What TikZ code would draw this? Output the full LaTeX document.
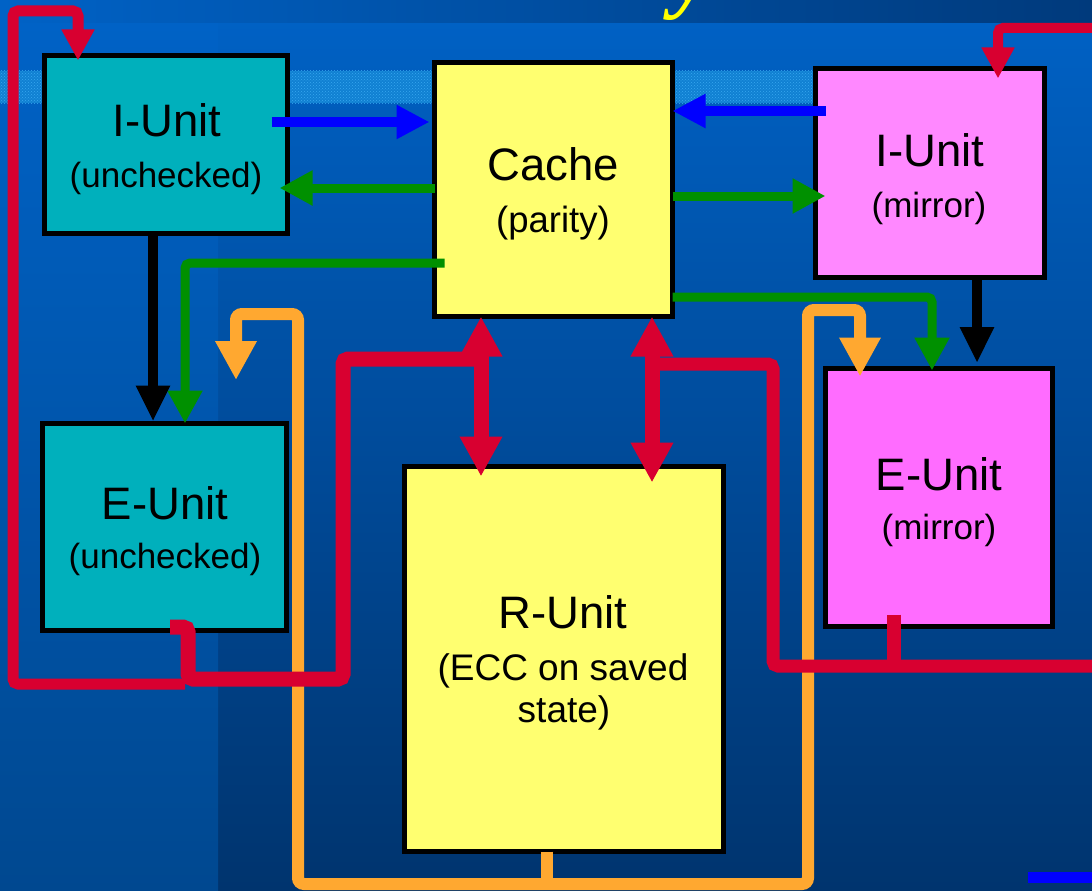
\documentclass[tikz,border=0pt]{standalone}
\usepackage{fontspec}
\setmainfont{Liberation Sans}
\newfontfamily\titlefont{Liberation Serif}
\usetikzlibrary{arrows.meta,patterns}
\definecolor{tealc}{HTML}{00B0BC}
\definecolor{yelc}{HTML}{FFFF70}
\definecolor{pinkA}{HTML}{FF88FF}
\definecolor{pinkB}{HTML}{FF6CFF}
\definecolor{redc}{HTML}{D80030}
\definecolor{orc}{HTML}{FFA830}
\definecolor{grc}{HTML}{009000}
\definecolor{blc}{HTML}{0000FF}
\definecolor{bgtop}{HTML}{0062C6}
\definecolor{bgbot}{HTML}{00346E}
\definecolor{bgleftbot}{HTML}{004890}
\definecolor{bandr}{HTML}{003A7C}
\definecolor{stripec}{HTML}{1080D2}
\definecolor{stripedot}{HTML}{38A8F0}
\definecolor{titley}{HTML}{FFFF00}
\begin{document}
\begin{tikzpicture}[x=1pt,y=-1pt,
  box/.style={draw=black,line width=5pt,inner sep=0pt,outer sep=0pt},
  big/.style={font=\fontsize{45.5}{50}\selectfont,inner sep=0pt},
  small/.style={font=\fontsize{35}{40}\selectfont,inner sep=0pt},
  bluearr/.style={draw=blc,line width=10pt,-{Triangle[length=33pt,width=32pt]}},
  greenarr/.style={draw=grc,line width=9pt,-{Triangle[length=33pt,width=33pt]}},
  blackarr/.style={draw=black,line width=10pt,-{Triangle[length=36pt,width=32pt]}},
  orline/.style={draw=orc,line width=12pt,rounded corners=6pt},
  orarr/.style={orline,{Triangle[length=39pt,width=39pt]}-{Triangle[length=39pt,width=39pt]}},
  redline/.style={draw=redc,rounded corners=5pt},
  redtip/.style={-{Triangle[length=31pt,width=31pt]}},
  reddouble/.style={redline,line width=15pt,{Triangle[length=40pt,width=40pt]}-{Triangle[length=40pt,width=40pt]}}
]
\useasboundingbox (0,0) rectangle (1092,891);
\clip (0,0) rectangle (1092,891);
% background
\shade[top color=bgtop,bottom color=bgbot] (0,0) rectangle (1092,891);
\shade[top color=bgtop,bottom color=bgleftbot] (0,23) rectangle (218,891);
\shade[left color=bgtop,right color=bandr] (0,0) rectangle (1092,23);
\fill[stripec] (0,71) rectangle (813,103);
\fill[pattern=crosshatch dots,pattern color=stripedot] (0,71) rectangle (813,103);
\node[font=\titlefont\bfseries\itshape\fontsize{88}{90}\selectfont,text=titley,anchor=base west,inner sep=0pt] (title) at (672,2) {y};

% boxes
\node[box,fill=tealc,minimum width=243pt,minimum height=178pt] (iu) at (166,144.5) {};
\node[box,fill=yelc,minimum width=238pt,minimum height=254pt] (cache) at (553.5,189.5) {};
\node[box,fill=pinkA,minimum width=229pt,minimum height=209pt] (im) at (930,173) {};
\node[box,fill=tealc,minimum width=244pt,minimum height=207pt] (eu) at (164.5,527) {};
\node[box,fill=yelc,minimum width=319pt,minimum height=385pt] (ru) at (564,659) {};
\node[box,fill=pinkB,minimum width=227pt,minimum height=258pt] (em) at (939,497.5) {};

% texts
\node[big] (iu-a) at (167,120) {I-Unit};
\node[small] (iu-b) at (166,178) {(unchecked)};
\node[big] (ca-a) at (553,164) {Cache};
\node[small,font=\fontsize{36.5}{40}\selectfont] (ca-b) at (553,223) {(parity)};
\node[big] (im-a) at (930,150) {I-Unit};
\node[small] (im-b) at (929,208) {(mirror)};
\node[big] (eu-a) at (165,503) {E-Unit};
\node[small] (eu-b) at (165,559) {(unchecked)};
\node[big] (ru-a) at (563,612) {R-Unit};
\node[small,font=\fontsize{37}{40}\selectfont] (ru-b) at (563,671) {(ECC on saved};
\node[small,font=\fontsize{37}{40}\selectfont] (ru-c) at (564,713) {state)};
\node[big] (em-a) at (939,474) {E-Unit};
\node[small] (em-b) at (939,530) {(mirror)};

% blue
\draw[bluearr] ([xshift=-16pt]iu.east |- 0,122) -- ([xshift=-5pt]cache.west |- 0,122);
\draw[bluearr] ([xshift=10pt]im.west |- 0,111) -- (cache.east |- 0,111);
% green
\draw[greenarr] (cache.west |- 0,188) -- ([xshift=-8pt]iu.east |- 0,188);
\draw[greenarr] (cache.east |- 0,196) -- ([xshift=10pt]im.west |- 0,196);
\draw[greenarr,rounded corners=5pt] ([xshift=10pt]cache.west |- 0,263) -- (185,263) -- (eu.north -| 185,0);
\draw[greenarr,rounded corners=5pt] (cache.east |- 0,297) -- (932,297) -- ([yshift=-2pt]em.north -| 932,0);
% black
\draw[blackarr] (iu.south -| 153,0) -- ([yshift=2pt]eu.north -| 153,0);
\draw[blackarr] (im.south -| 977,0) -- (977,363);
% orange
\coordinate (otipL) at (236,380);
\draw[orarr] (otipL) -- (236,314) -- (298,314) -- (298,884) -- (808,884) -- (808,310) -- (860,310) -- ([yshift=-8pt]em.north -| 860,0);
\draw[orline] (ru.south -| 547,0) -- (547,884);
% red
\draw[redline,line width=11pt,redtip] (185,684) -- (13,684) -- (13,11) -- (78,11) -- ([yshift=-5pt]iu.north -| 78,0);
\draw[redline,line width=15pt] ([yshift=3.5pt]eu.south -| 170,0) -- (188,627) -- (188,679) -- (343,679) -- (343,359) -- (481,359);
\draw[reddouble] (cache.south -| 481,0) -- ([yshift=-10pt]ru.north -| 481,0);
\draw[reddouble] (cache.south -| 652,0) -- ([yshift=-16pt]ru.north -| 652,0);
\coordinate (redR) at (1092,666);
\draw[redline,line width=13pt] (652,364) -- (773,364) -- (773,666) -- (redR);
\draw[redline,line width=14pt] ([yshift=12pt]em.south -| 894,0) -- (894,666);
\coordinate (redTR) at (1092,28);
\draw[redline,line width=10pt,redtip] (redTR) -- (998,28) -- ([yshift=-10pt]im.north -| 998,0);
% bottom-right fragment
\fill[blc] (1028,872) rectangle (1092,883);
\end{tikzpicture}
\end{document}
